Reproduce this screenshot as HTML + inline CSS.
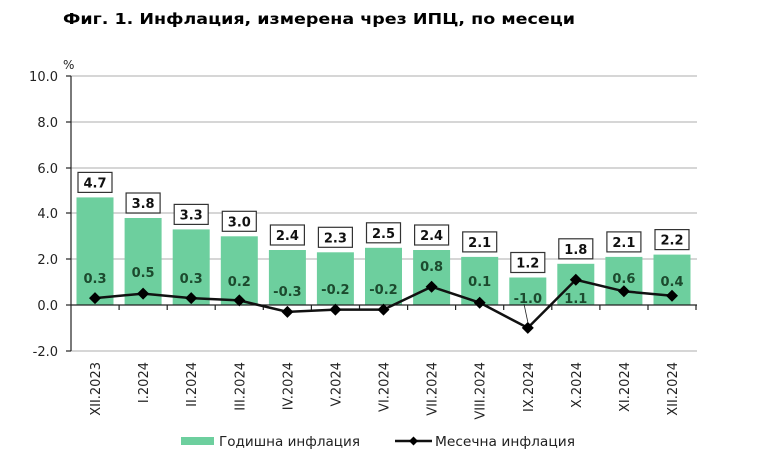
<!DOCTYPE html>
<html><head><meta charset="utf-8"><style>body{margin:0;background:#fff}svg{display:block}</style></head><body>
<svg width="778" height="476" xmlns="http://www.w3.org/2000/svg" font-family="DejaVu Sans, Verdana, sans-serif">
<text x="63" y="24" font-size="15" font-weight="bold" textLength="512" lengthAdjust="spacingAndGlyphs">Фиг. 1. Инфлация, измерена чрез ИПЦ, по месеци</text>
<g stroke="#c8c8c8" stroke-width="1.5">
<line x1="71" y1="76" x2="697" y2="76"/><line x1="71" y1="122" x2="697" y2="122"/><line x1="71" y1="168" x2="697" y2="168"/><line x1="71" y1="213" x2="697" y2="213"/><line x1="71" y1="259" x2="697" y2="259"/><line x1="71" y1="351" x2="697" y2="351"/>
</g>
<g font-size="13" fill="#222" text-anchor="end">
<text x="58" y="81">10.0</text><text x="58" y="127">8.0</text><text x="58" y="173">6.0</text><text x="58" y="218">4.0</text><text x="58" y="264">2.0</text><text x="58" y="310">0.0</text><text x="58" y="356">-2.0</text>
</g>
<text x="63" y="69" font-size="12" fill="#222">%</text>
<g fill="#6dcf9e">
<rect x="76.5" y="197.4" width="37" height="107.6"/><rect x="124.6" y="218" width="37" height="87"/><rect x="172.7" y="229.4" width="37" height="75.6"/><rect x="220.8" y="236.3" width="37" height="68.7"/><rect x="268.9" y="250" width="37" height="55"/><rect x="316.9" y="252.3" width="37" height="52.7"/><rect x="365" y="247.8" width="37" height="57.2"/><rect x="413.1" y="250" width="37" height="55"/><rect x="461.2" y="256.9" width="37" height="48.1"/><rect x="509.3" y="277.5" width="37" height="27.5"/><rect x="557.3" y="263.8" width="37" height="41.2"/><rect x="605.4" y="256.9" width="37" height="48.1"/><rect x="653.5" y="254.6" width="37" height="50.4"/>
</g>
<g stroke="#222" stroke-width="1.2">
<line x1="71" y1="76" x2="71" y2="351"/>
<line x1="66" y1="76" x2="71" y2="76"/><line x1="66" y1="122" x2="71" y2="122"/><line x1="66" y1="168" x2="71" y2="168"/><line x1="66" y1="213" x2="71" y2="213"/><line x1="66" y1="259" x2="71" y2="259"/><line x1="66" y1="305" x2="71" y2="305"/><line x1="66" y1="351" x2="71" y2="351"/>
<line x1="71" y1="305" x2="697" y2="305"/>
<path d="M119.1 305v5M167.2 305v5M215.2 305v5M263.3 305v5M311.4 305v5M359.5 305v5M407.6 305v5M455.6 305v5M503.7 305v5M551.8 305v5M599.9 305v5M648 305v5M696 305v5"/>
<line x1="524" y1="304" x2="527.8" y2="322" stroke-width="0.8"/>
</g>
<polyline fill="none" stroke="#111" stroke-width="2.5" points="95,298.1 143.1,293.6 191.2,298.1 239.3,300.4 287.4,311.9 335.4,309.6 383.5,309.6 431.6,286.7 479.7,302.7 527.8,327.9 575.8,279.8 623.9,291.3 672,295.8"/>
<g fill="#000">
<path d="M95 292.1l6 6-6 6-6-6zM143.1 287.6l6 6-6 6-6-6zM191.2 292.1l6 6-6 6-6-6zM239.3 294.4l6 6-6 6-6-6zM287.4 305.9l6 6-6 6-6-6zM335.4 303.6l6 6-6 6-6-6zM383.5 303.6l6 6-6 6-6-6zM431.6 280.7l6 6-6 6-6-6zM479.7 296.7l6 6-6 6-6-6zM527.8 321.9l6 6-6 6-6-6zM575.8 273.8l6 6-6 6-6-6zM623.9 285.3l6 6-6 6-6-6zM672 289.8l6 6-6 6-6-6z"/>
</g>
<g fill="#fff" stroke="#333" stroke-width="1.2">
<rect x="78" y="172.4" width="34" height="20"/><rect x="126.1" y="193" width="34" height="20"/><rect x="174.2" y="204.4" width="34" height="20"/><rect x="222.3" y="211.3" width="34" height="20"/><rect x="270.4" y="225" width="34" height="20"/><rect x="318.4" y="227.3" width="34" height="20"/><rect x="366.5" y="222.8" width="34" height="20"/><rect x="414.6" y="225" width="34" height="20"/><rect x="462.7" y="231.9" width="34" height="20"/><rect x="510.8" y="252.5" width="34" height="20"/><rect x="558.8" y="238.8" width="34" height="20"/><rect x="606.9" y="231.9" width="34" height="20"/><rect x="655" y="229.6" width="34" height="20"/>
</g>
<g font-size="13" font-weight="bold" fill="#111" text-anchor="middle">
<text x="95" y="187.4">4.7</text><text x="143.1" y="208">3.8</text><text x="191.2" y="219.4">3.3</text><text x="239.3" y="226.3">3.0</text><text x="287.4" y="240">2.4</text><text x="335.4" y="242.3">2.3</text><text x="383.5" y="237.8">2.5</text><text x="431.6" y="240">2.4</text><text x="479.7" y="246.9">2.1</text><text x="527.8" y="267.5">1.2</text><text x="575.8" y="253.8">1.8</text><text x="623.9" y="246.9">2.1</text><text x="672" y="244.6">2.2</text>
</g>
<g font-size="13" font-weight="bold" fill="#1c4a2e" text-anchor="middle">
<text x="95" y="283">0.3</text><text x="143.1" y="277">0.5</text><text x="191.2" y="283">0.3</text><text x="239.3" y="286">0.2</text><text x="287.4" y="296">-0.3</text><text x="335.4" y="294">-0.2</text><text x="383.5" y="294">-0.2</text><text x="431.6" y="271">0.8</text><text x="479.7" y="286">0.1</text><text x="527.8" y="303">-1.0</text><text x="575.8" y="303">1.1</text><text x="623.9" y="283">0.6</text><text x="672" y="286">0.4</text>
</g>
<g font-size="13" fill="#222" text-anchor="end">
<text transform="translate(100,362) rotate(-90)">XII.2023</text>
<text transform="translate(148.1,362) rotate(-90)">I.2024</text>
<text transform="translate(196.2,362) rotate(-90)">II.2024</text>
<text transform="translate(244.3,362) rotate(-90)">III.2024</text>
<text transform="translate(292.4,362) rotate(-90)">IV.2024</text>
<text transform="translate(340.4,362) rotate(-90)">V.2024</text>
<text transform="translate(388.5,362) rotate(-90)">VI.2024</text>
<text transform="translate(436.6,362) rotate(-90)">VII.2024</text>
<text transform="translate(484.7,362) rotate(-90)">VIII.2024</text>
<text transform="translate(532.8,362) rotate(-90)">IX.2024</text>
<text transform="translate(580.8,362) rotate(-90)">X.2024</text>
<text transform="translate(628.9,362) rotate(-90)">XI.2024</text>
<text transform="translate(677,362) rotate(-90)">XII.2024</text>
</g>
<rect x="181" y="437" width="33" height="8" fill="#6dcf9e"/>
<text x="219" y="446" font-size="13" fill="#222" textLength="141" lengthAdjust="spacingAndGlyphs">Годишна инфлация</text>
<line x1="395" y1="441" x2="432" y2="441" stroke="#111" stroke-width="2.5"/>
<path d="M413.5 436.5l4.5 4.5-4.5 4.5-4.5-4.5z" fill="#000"/>
<text x="435" y="446" font-size="13" fill="#222" textLength="140" lengthAdjust="spacingAndGlyphs">Месечна инфлация</text>
</svg>
</body></html>
